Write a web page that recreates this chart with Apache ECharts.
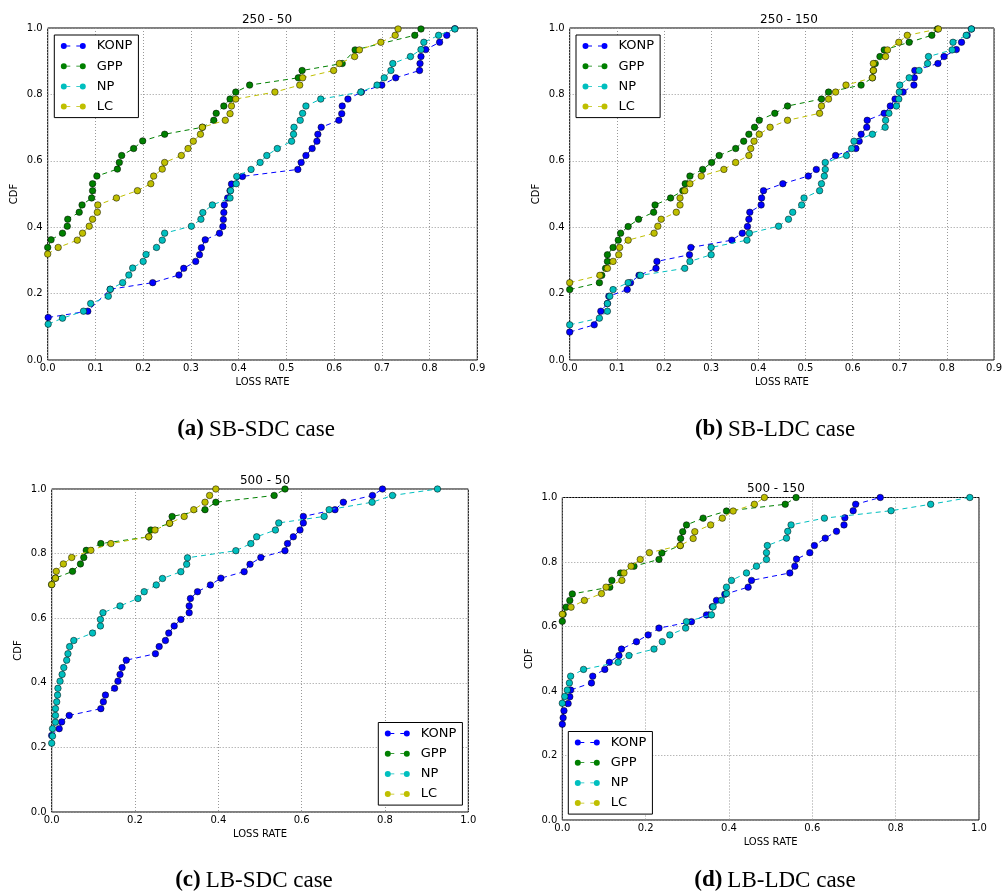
<!DOCTYPE html>
<html><head><meta charset="utf-8">
<script src="https://cdn.jsdelivr.net/npm/echarts@6/dist/echarts.min.js"></script>
<style>html,body{margin:0;padding:0;background:#fff;}#c{width:1005px;height:893px;}</style>
</head><body><div id="c"></div>
<script>
// ---------- data ----------
const seriesNames = ['KONP', 'GPP', 'NP', 'LC'];
const panelTitles = ['250 - 50', '250 - 150', '500 - 50', '500 - 150'];
const captionTags = ['(a)', '(b)', '(c)', '(d)'];
const captionTexts = ['SB-SDC case', 'SB-LDC case', 'LB-SDC case', 'LB-LDC case'];
const xTicksA = [0, 0.1, 0.2, 0.3, 0.4, 0.5, 0.6, 0.7, 0.8, 0.9];
const xTicksC = [0, 0.2, 0.4, 0.6, 0.8, 1.0];
const yTicks = [0, 0.2, 0.4, 0.6, 0.8, 1.0];

const a_konp = [[0.001,0.128],[0.084,0.147],[0.131,0.213],[0.22,0.233],[0.275,0.256],[0.285,0.276],[0.31,0.297],[0.318,0.317],[0.322,0.338],[0.33,0.362],[0.36,0.382],[0.367,0.402],[0.368,0.423],[0.369,0.444],[0.37,0.467],[0.377,0.488],[0.382,0.51],[0.385,0.53],[0.408,0.553],[0.524,0.574],[0.531,0.595],[0.541,0.616],[0.554,0.637],[0.564,0.659],[0.566,0.68],[0.573,0.701],[0.61,0.722],[0.616,0.742],[0.617,0.765],[0.629,0.786],[0.657,0.807],[0.7,0.828],[0.729,0.85],[0.779,0.872],[0.78,0.893],[0.782,0.914],[0.792,0.935],[0.821,0.957],[0.836,0.978],[0.853,0.998]];
const a_gpp = [[0,0.339],[0.007,0.362],[0.031,0.382],[0.041,0.403],[0.042,0.424],[0.066,0.445],[0.072,0.467],[0.092,0.488],[0.094,0.51],[0.094,0.531],[0.103,0.554],[0.146,0.575],[0.15,0.595],[0.155,0.616],[0.18,0.637],[0.199,0.66],[0.245,0.68],[0.324,0.701],[0.348,0.722],[0.353,0.743],[0.369,0.765],[0.382,0.786],[0.394,0.807],[0.423,0.828],[0.525,0.85],[0.533,0.872],[0.617,0.893],[0.644,0.934],[0.769,0.978],[0.782,0.997]];
const a_np = [[0.001,0.108],[0.031,0.126],[0.075,0.147],[0.09,0.17],[0.127,0.192],[0.131,0.213],[0.157,0.233],[0.17,0.256],[0.178,0.277],[0.2,0.297],[0.206,0.318],[0.228,0.339],[0.24,0.361],[0.245,0.382],[0.301,0.403],[0.321,0.424],[0.325,0.444],[0.345,0.467],[0.382,0.488],[0.383,0.51],[0.395,0.531],[0.396,0.553],[0.426,0.574],[0.445,0.595],[0.459,0.616],[0.481,0.637],[0.511,0.659],[0.515,0.68],[0.516,0.701],[0.529,0.722],[0.534,0.743],[0.541,0.765],[0.572,0.786],[0.656,0.807],[0.69,0.828],[0.705,0.85],[0.719,0.872],[0.723,0.893],[0.76,0.914],[0.782,0.935],[0.788,0.957],[0.819,0.978],[0.853,0.997]];
const a_lc = [[0,0.319],[0.022,0.339],[0.062,0.361],[0.073,0.382],[0.087,0.403],[0.094,0.424],[0.104,0.445],[0.105,0.467],[0.144,0.488],[0.188,0.51],[0.216,0.531],[0.222,0.554],[0.24,0.575],[0.245,0.595],[0.28,0.616],[0.294,0.637],[0.305,0.659],[0.32,0.68],[0.324,0.701],[0.372,0.722],[0.382,0.742],[0.385,0.765],[0.394,0.786],[0.476,0.807],[0.528,0.828],[0.534,0.85],[0.599,0.872],[0.611,0.893],[0.643,0.914],[0.653,0.934],[0.698,0.957],[0.728,0.978],[0.734,0.997]];

const b_konp = [[0,0.084],[0.052,0.106],[0.066,0.147],[0.08,0.17],[0.083,0.192],[0.122,0.212],[0.129,0.233],[0.147,0.255],[0.183,0.276],[0.185,0.297],[0.254,0.317],[0.257,0.339],[0.344,0.361],[0.366,0.382],[0.377,0.402],[0.38,0.424],[0.382,0.445],[0.406,0.467],[0.407,0.488],[0.411,0.51],[0.452,0.531],[0.506,0.554],[0.523,0.574],[0.564,0.616],[0.607,0.637],[0.614,0.659],[0.618,0.68],[0.63,0.701],[0.631,0.722],[0.667,0.743],[0.68,0.765],[0.69,0.786],[0.707,0.807],[0.73,0.828],[0.731,0.85],[0.732,0.872],[0.781,0.893],[0.794,0.914],[0.82,0.935],[0.831,0.957],[0.843,0.978],[0.852,0.997]];
const b_gpp = [[0,0.212],[0.063,0.233],[0.068,0.255],[0.076,0.276],[0.08,0.297],[0.08,0.317],[0.092,0.339],[0.103,0.361],[0.108,0.382],[0.124,0.402],[0.146,0.424],[0.178,0.445],[0.181,0.467],[0.214,0.488],[0.24,0.51],[0.245,0.531],[0.255,0.554],[0.282,0.574],[0.301,0.595],[0.317,0.616],[0.352,0.637],[0.369,0.659],[0.38,0.68],[0.392,0.701],[0.402,0.722],[0.435,0.743],[0.462,0.765],[0.534,0.786],[0.549,0.807],[0.618,0.828],[0.642,0.85],[0.644,0.872],[0.648,0.893],[0.658,0.914],[0.667,0.934],[0.72,0.957],[0.768,0.978],[0.78,0.997]];
const b_np = [[0,0.106],[0.063,0.126],[0.08,0.147],[0.08,0.17],[0.085,0.192],[0.092,0.212],[0.124,0.233],[0.15,0.255],[0.244,0.276],[0.255,0.297],[0.3,0.317],[0.3,0.339],[0.376,0.361],[0.381,0.382],[0.443,0.403],[0.464,0.424],[0.473,0.445],[0.492,0.467],[0.497,0.488],[0.53,0.51],[0.534,0.531],[0.54,0.554],[0.542,0.574],[0.542,0.595],[0.587,0.616],[0.598,0.637],[0.603,0.659],[0.642,0.68],[0.669,0.701],[0.67,0.722],[0.677,0.743],[0.693,0.765],[0.698,0.786],[0.699,0.807],[0.7,0.828],[0.72,0.85],[0.741,0.872],[0.759,0.893],[0.761,0.914],[0.811,0.934],[0.813,0.957],[0.841,0.978],[0.852,0.997]];
const b_lc = [[0,0.233],[0.064,0.255],[0.08,0.276],[0.092,0.297],[0.104,0.317],[0.106,0.339],[0.124,0.361],[0.179,0.382],[0.187,0.403],[0.194,0.424],[0.226,0.445],[0.234,0.467],[0.234,0.488],[0.244,0.51],[0.255,0.531],[0.279,0.554],[0.327,0.574],[0.352,0.595],[0.38,0.616],[0.384,0.637],[0.391,0.659],[0.402,0.68],[0.425,0.701],[0.462,0.722],[0.53,0.743],[0.534,0.765],[0.549,0.786],[0.564,0.807],[0.586,0.828],[0.642,0.85],[0.644,0.872],[0.644,0.893],[0.67,0.914],[0.674,0.934],[0.698,0.957],[0.716,0.978],[0.782,0.997]];

const c_konp = [[0,0.237],[0.018,0.258],[0.024,0.279],[0.042,0.299],[0.118,0.32],[0.124,0.341],[0.129,0.362],[0.151,0.383],[0.159,0.405],[0.164,0.426],[0.169,0.447],[0.179,0.47],[0.249,0.49],[0.258,0.512],[0.273,0.531],[0.281,0.554],[0.294,0.576],[0.31,0.596],[0.33,0.617],[0.33,0.638],[0.333,0.661],[0.35,0.682],[0.381,0.703],[0.406,0.724],[0.462,0.744],[0.476,0.767],[0.502,0.788],[0.56,0.809],[0.566,0.831],[0.58,0.852],[0.596,0.873],[0.604,0.895],[0.604,0.915],[0.68,0.936],[0.7,0.959],[0.77,0.98],[0.794,1.0]];
const c_gpp = [[0,0.704],[0.009,0.724],[0.05,0.745],[0.069,0.768],[0.077,0.788],[0.083,0.81],[0.118,0.831],[0.233,0.852],[0.238,0.873],[0.283,0.894],[0.289,0.915],[0.368,0.936],[0.394,0.959],[0.534,0.98],[0.56,1.0]];
const c_np = [[0,0.213],[0.002,0.235],[0.002,0.258],[0.009,0.278],[0.009,0.299],[0.009,0.32],[0.012,0.341],[0.014,0.362],[0.015,0.383],[0.02,0.405],[0.025,0.426],[0.029,0.447],[0.036,0.47],[0.039,0.49],[0.043,0.512],[0.053,0.531],[0.098,0.554],[0.117,0.576],[0.117,0.596],[0.123,0.617],[0.164,0.638],[0.207,0.661],[0.222,0.682],[0.251,0.703],[0.266,0.723],[0.31,0.744],[0.324,0.767],[0.326,0.787],[0.442,0.809],[0.478,0.831],[0.492,0.852],[0.537,0.873],[0.545,0.895],[0.654,0.915],[0.666,0.936],[0.769,0.959],[0.818,0.98],[0.926,1.0]];
const c_lc = [[0,0.704],[0.009,0.724],[0.011,0.745],[0.028,0.768],[0.048,0.788],[0.094,0.81],[0.142,0.831],[0.233,0.852],[0.248,0.873],[0.283,0.894],[0.318,0.915],[0.341,0.936],[0.368,0.959],[0.379,0.98],[0.394,1.0]];

const d_konp = [[0,0.297],[0.002,0.317],[0.004,0.339],[0.014,0.361],[0.018,0.382],[0.02,0.403],[0.07,0.425],[0.073,0.446],[0.102,0.467],[0.113,0.489],[0.136,0.51],[0.142,0.53],[0.178,0.553],[0.206,0.574],[0.232,0.595],[0.31,0.615],[0.346,0.636],[0.36,0.661],[0.37,0.681],[0.39,0.7],[0.446,0.722],[0.454,0.743],[0.546,0.766],[0.558,0.787],[0.562,0.809],[0.594,0.829],[0.605,0.851],[0.631,0.874],[0.658,0.895],[0.676,0.915],[0.678,0.937],[0.698,0.959],[0.704,0.979],[0.763,1.0]];
const d_gpp = [[0,0.616],[0.002,0.638],[0.009,0.66],[0.018,0.681],[0.024,0.701],[0.114,0.722],[0.119,0.743],[0.14,0.766],[0.172,0.787],[0.232,0.808],[0.239,0.828],[0.283,0.851],[0.284,0.873],[0.289,0.894],[0.298,0.915],[0.338,0.936],[0.394,0.958],[0.535,0.979],[0.561,1.0]];
const d_np = [[0,0.362],[0.006,0.383],[0.012,0.403],[0.017,0.425],[0.02,0.446],[0.051,0.467],[0.134,0.489],[0.16,0.51],[0.22,0.53],[0.24,0.553],[0.258,0.574],[0.296,0.595],[0.298,0.615],[0.358,0.636],[0.362,0.661],[0.382,0.681],[0.394,0.702],[0.394,0.722],[0.406,0.743],[0.442,0.766],[0.466,0.787],[0.49,0.808],[0.49,0.829],[0.492,0.851],[0.538,0.874],[0.541,0.895],[0.549,0.915],[0.629,0.936],[0.789,0.959],[0.884,0.979],[0.978,1.0]];
const d_lc = [[0,0.638],[0.021,0.66],[0.053,0.681],[0.094,0.702],[0.105,0.722],[0.143,0.743],[0.148,0.766],[0.165,0.787],[0.187,0.808],[0.209,0.829],[0.283,0.851],[0.314,0.873],[0.318,0.894],[0.356,0.915],[0.384,0.936],[0.41,0.958],[0.461,0.979],[0.485,1.0]];

const panelData = [
  [a_konp, a_gpp, a_np, a_lc],
  [b_konp, b_gpp, b_np, b_lc],
  [c_konp, c_gpp, c_np, c_lc],
  [d_konp, d_gpp, d_np, d_lc]
];
const panelXTicks = [xTicksA, xTicksA, xTicksC, xTicksC];

// ---------- styling / layout ----------
const colors = ['#0000ff', '#008000', '#00bfbf', '#bfbf00'];
const layout = [
  {left: 47.7, top: 28, width: 429.6, height: 332, tx: 262, ty: 9, lg: {left: 54.3, top: 35}, cx: 251, cy: 413},
  {left: 569.7, top: 28, width: 428.6, height: 332, tx: 784, ty: 9, lg: {left: 576, top: 35}, cx: 770, cy: 413},
  {left: 51.7, top: 489, width: 416.6, height: 323, tx: 260, ty: 470, lg: {left: 378.3, top: 722.5}, cx: 249, cy: 864},
  {left: 562.3, top: 497.5, width: 416.7, height: 322.5, tx: 771, ty: 478, lg: {left: 568.3, top: 731.5}, cx: 770, cy: 864}
];
const SANS = 'DejaVu Sans';
const legendIcon = 'path://M0,3 A3,3 0 1,1 6,3 A3,3 0 1,1 0,3 Z M6,2.6 L9.5,2.6 L9.5,3.4 L6,3.4 Z M15.5,2.6 L19,2.6 L19,3.4 L15.5,3.4 Z M19,3 A3,3 0 1,1 25,3 A3,3 0 1,1 19,3 Z';

const grid = [], xAxis = [], yAxis = [], series = [], legend = [], title = [];
layout.forEach((L, i) => {
  const xt = panelXTicks[i];
  const xmax = xt[xt.length - 1];
  const xint = xt[1] - xt[0];
  grid.push({left: L.left, top: L.top, width: L.width, height: L.height, show: true,
    borderColor: '#000', borderWidth: 1, backgroundColor: 'transparent', containLabel: false});
  xAxis.push({type: 'value', gridIndex: i, min: 0, max: xmax, interval: xint,
    name: 'LOSS RATE', nameLocation: 'middle', nameGap: 17,
    nameTextStyle: {fontFamily: SANS, fontSize: 10, color: '#000'},
    axisLine: {show: false}, axisTick: {show: false},
    axisLabel: {fontFamily: SANS, fontSize: 10, color: '#000', margin: 3, showMaxLabel: true,
      formatter: v => v.toFixed(1)},
    splitLine: {show: true, lineStyle: {color: '#999', width: 1, type: [1, 2]}}});
  yAxis.push({type: 'value', gridIndex: i, min: yTicks[0], max: yTicks[yTicks.length - 1], interval: yTicks[1] - yTicks[0],
    name: 'CDF', nameLocation: 'middle', nameGap: 28, nameRotate: 90,
    nameTextStyle: {fontFamily: SANS, fontSize: 10, color: '#000'},
    axisLine: {show: false}, axisTick: {show: false},
    axisLabel: {fontFamily: SANS, fontSize: 10, color: '#000', margin: 5, formatter: v => v.toFixed(1)},
    splitLine: {show: true, lineStyle: {color: '#999', width: 1, type: [1, 2]}}});
  panelData[i].forEach((d, k) => {
    series.push({type: 'line', name: seriesNames[k], xAxisIndex: i, yAxisIndex: i, data: d,
      symbol: 'circle', symbolSize: 6.5, showSymbol: true, clip: true,
      lineStyle: {color: colors[k], width: 1, type: [5, 4]},
      itemStyle: {color: colors[k], borderColor: '#000', borderWidth: 0.5},
      emphasis: {disabled: true}, z: 2 + k});
  });
  legend.push({orient: 'vertical', left: L.lg.left, top: L.lg.top, data: seriesNames,
    icon: legendIcon, itemWidth: 25, itemHeight: 6, itemGap: 6.2,
    padding: [4, 6, 4, 6.5], backgroundColor: '#fff', borderColor: '#000', borderWidth: 1, borderRadius: 0,
    itemStyle: {borderWidth: 0}, selectedMode: false,
    textStyle: {fontFamily: SANS, fontSize: 13, color: '#000', lineHeight: 14, padding: [0, 0, 0, 6]}});
  title.push({text: panelTitles[i], left: L.tx, top: L.ty, textAlign: 'center',
    textStyle: {fontFamily: SANS, fontSize: 12, fontWeight: 'normal', color: '#000'}});
  title.push({text: '{b|' + captionTags[i] + '} {n|' + captionTexts[i] + '}', left: L.cx, top: L.cy, textAlign: 'center',
    textStyle: {rich: {
      b: {fontFamily: 'Liberation Serif', fontSize: 23, fontWeight: 'bold', color: '#000'},
      n: {fontFamily: 'Liberation Serif', fontSize: 23, fontWeight: 'normal', color: '#000'}}}});
});

const chart = echarts.init(document.getElementById('c'), null, {renderer: 'canvas'});
chart.setOption({animation: false, backgroundColor: '#fff', grid, xAxis, yAxis, series, legend, title});
</script></body></html>
